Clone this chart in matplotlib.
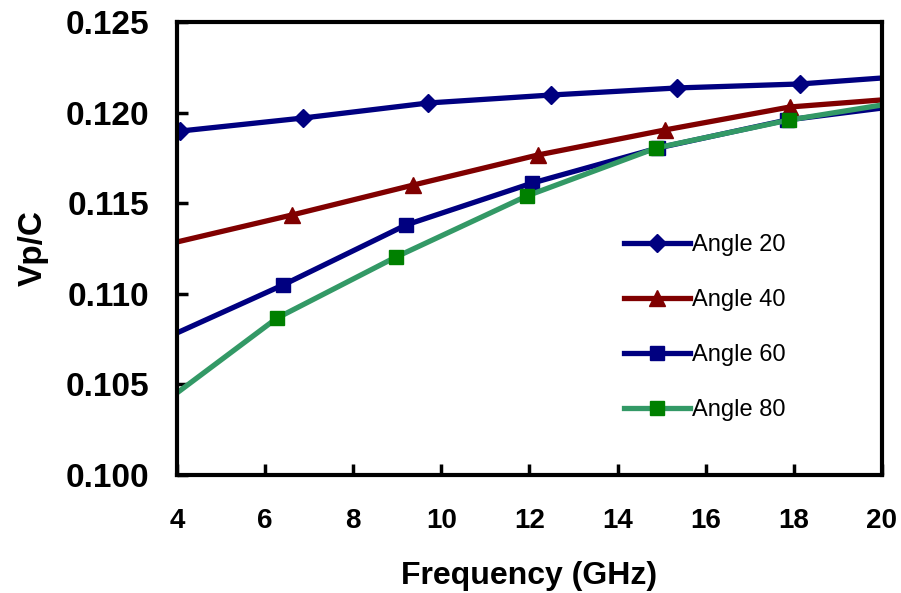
import matplotlib.pyplot as plt

# ---- data ----
freq_20 = [4.0, 4.07, 6.86, 9.70, 12.49, 15.35, 18.14, 20.0]
vpc_20 = [0.11895, 0.11898, 0.11970, 0.12053, 0.12097, 0.12136, 0.12158, 0.12191]

freq_40 = [4.0, 6.61, 9.36, 12.19, 15.07, 17.91, 20.0]
vpc_40 = [0.11286, 0.11435, 0.11600, 0.11766, 0.11904, 0.12031, 0.12070]

freq_60 = [4.0, 6.41, 9.20, 12.06, 14.92, 17.84, 20.0]
vpc_60 = [0.10784, 0.11049, 0.11380, 0.11611, 0.11805, 0.11959, 0.12025]

freq_80 = [4.0, 6.27, 8.97, 11.94, 14.88, 17.89, 20.0]
vpc_80 = [0.10453, 0.10866, 0.11203, 0.11540, 0.11805, 0.11959, 0.12042]

x_ticks = [4, 6, 8, 10, 12, 14, 16, 18, 20]
y_ticks = [0.100, 0.105, 0.110, 0.115, 0.120, 0.125]

plt.rcParams['font.family'] = ['Liberation Sans', 'DejaVu Sans']

fig = plt.figure(figsize=(9.01, 5.93), dpi=100)
ax = fig.add_axes([0.1964, 0.199, 0.7825, 0.7639])

lw = 3.8
ax.plot(freq_20, vpc_20, color='#000080', lw=lw, marker='D', ms=9,
        markevery=slice(1, -1), label='Angle 20')
ax.plot(freq_40, vpc_40, color='#800000', lw=lw, marker='^', ms=11,
        markevery=slice(1, -1), label='Angle 40')
ax.plot(freq_60, vpc_60, color='#000080', lw=lw, marker='s', ms=10,
        markevery=slice(1, -1), label='Angle 60')
ax.plot(freq_80, vpc_80, color='#339966', lw=lw, marker='s', ms=10,
        mfc='#008000', mec='#008000', markevery=slice(1, -1), label='Angle 80')

ax.set_xlim(4, 20)
ax.set_ylim(0.100, 0.125)
ax.set_xticks(x_ticks)
ax.set_xticklabels([str(t) for t in x_ticks])
ax.set_yticks(y_ticks)
ax.set_yticklabels([f'{t:.3f}' for t in y_ticks])

for s in ax.spines.values():
    s.set_linewidth(3)
ax.tick_params(direction='in', length=8, width=2.5)
ax.tick_params(axis='y', labelsize=24, pad=20)
ax.tick_params(axis='x', labelsize=20, pad=24)
for lab in ax.get_xticklabels() + ax.get_yticklabels():
    lab.set_fontweight('bold')

ax.set_xlabel('Frequency (GHz)', fontsize=23, fontweight='bold', labelpad=19)
ax.set_ylabel('Vp/C', fontsize=24, fontweight='bold', labelpad=12)

ax.legend(loc='upper left', bbox_to_anchor=(0.634, 0.531), frameon=False,
          fontsize=17, handlelength=2.8, handletextpad=0.1, labelspacing=1.39,
          borderpad=0, borderaxespad=0)

fig.savefig('out.png', dpi=100)
